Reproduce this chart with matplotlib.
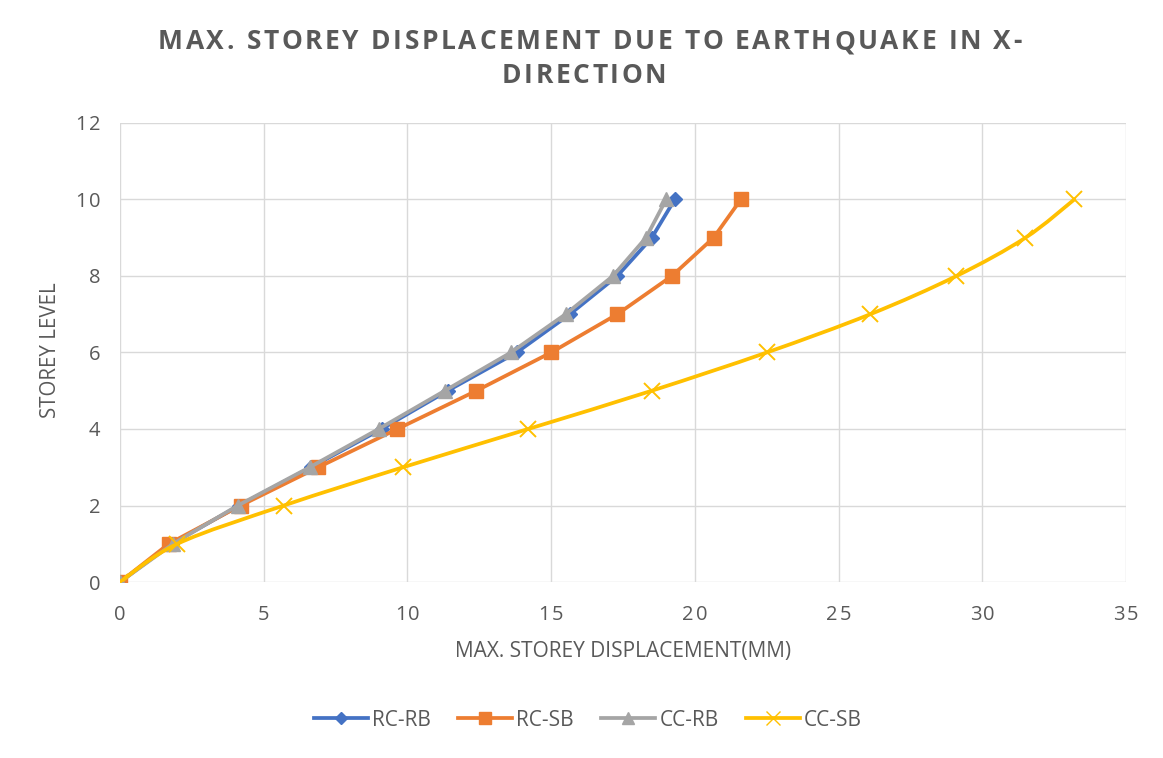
import numpy as np
import matplotlib
matplotlib.use("Agg")
import matplotlib.pyplot as plt
from matplotlib.path import Path
from matplotlib.patches import PathPatch
from matplotlib.lines import Line2D
from matplotlib.font_manager import FontProperties

# Storey levels and maximum displacements (mm)
storeys = [0, 1, 2, 3, 4, 5, 6, 7, 8, 9, 10]
rc_rb = [0, 1.8, 4.15, 6.65, 9.1, 11.4, 13.8, 15.65, 17.3, 18.5, 19.3]
rc_sb = [0, 1.7, 4.2, 6.9, 9.65, 12.4, 15.0, 17.3, 19.2, 20.65, 21.6]
cc_rb = [0, 1.85, 4.1, 6.6, 9.0, 11.3, 13.6, 15.5, 17.15, 18.3, 19.0]
cc_sb = [0, 2.0, 5.7, 9.85, 14.2, 18.5, 22.5, 26.1, 29.1, 31.5, 33.2]

series_names = ["RC-RB", "RC-SB", "CC-RB", "CC-SB"]
series_values = [rc_rb, rc_sb, cc_rb, cc_sb]
colors = ["#4472C4", "#ED7D31", "#A5A5A5", "#FFC000"]
markers = ["D", "s", "^", "x"]
marker_sizes = [7, 10, 10.5, 12]
smooth = [False, False, False, True]

x_ticks = [0, 5, 10, 15, 20, 25, 30, 35]
y_ticks = [0, 2, 4, 6, 8, 10, 12]

title_lines = ["MAX. STOREY DISPLACEMENT DUE TO EARTHQUAKE IN X-", "DIRECTION"]
x_label = "MAX. STOREY DISPLACEMENT(MM)"
y_label = "STOREY LEVEL"

text_color = "#595959"
grid_color = "#D9D9D9"
W, H = 1163, 758

fig = plt.figure(figsize=(W / 100, H / 100), dpi=100)
ax = fig.add_axes([120 / W, 1 - 582 / H, (1126 - 120) / W, (582 - 123) / H])
renderer = fig.canvas.get_renderer()


def text_width(s, prop):
    w, _, _ = renderer.get_text_width_height_descent(s, prop, ismath=False)
    return w


def spaced_text(x_px, y_base_px, s, prop, extra=0.0, ha="center", color=text_color):
    """Draw a string letter by letter with extra tracking (pixels)."""
    ref = "I"
    w_ref = text_width(ref, prop)
    offsets = [0.0] + [text_width(s[:i] + ref, prop) - w_ref for i in range(1, len(s))]
    total = text_width(s, prop) + extra * (len(s) - 1)
    if ha == "center":
        start = x_px - total / 2
    elif ha == "right":
        start = x_px - total
    else:
        start = x_px
    for i, ch in enumerate(s):
        if ch == " ":
            continue
        fig.text((start + offsets[i] + i * extra) / W, 1 - y_base_px / H, ch,
                 ha="left", va="baseline", fontproperties=prop, color=color)


def smooth_path(xs, ys, tension=1 / 6):
    """Catmull-Rom style Bezier path through the given points."""
    pts = np.column_stack([xs, ys]).astype(float)
    verts = [pts[0]]
    codes = [Path.MOVETO]
    n = len(pts)
    for i in range(n - 1):
        p0 = pts[i - 1] if i > 0 else pts[i]
        p1 = pts[i]
        p2 = pts[i + 1]
        p3 = pts[i + 2] if i + 2 < n else pts[i + 1]
        c1 = p1 + (p2 - p0) * tension
        c2 = p2 - (p3 - p1) * tension
        verts.extend([c1, c2, p2])
        codes.extend([Path.CURVE4] * 3)
    return Path(verts, codes)


for i, (name, vals) in enumerate(zip(series_names, series_values)):
    z = 3 + i
    if smooth[i]:
        patch = PathPatch(smooth_path(vals, storeys), facecolor="none",
                          edgecolor=colors[i], lw=2.7, zorder=z,
                          capstyle="round", joinstyle="round")
        ax.add_patch(patch)
        ax.plot(vals, storeys, linestyle="none", marker=markers[i],
                ms=marker_sizes[i], mec=colors[i], mfc=colors[i], mew=1.4,
                zorder=z)
    else:
        ax.plot(vals, storeys, color=colors[i], lw=2.7, marker=markers[i],
                ms=marker_sizes[i], mec=colors[i], mfc=colors[i],
                solid_joinstyle="round", zorder=z)

ax.set_xlim(0, 35)
ax.set_ylim(0, 12)
ax.set_xticks(x_ticks)
ax.set_yticks(y_ticks)
ax.grid(True, color=grid_color, lw=1.0)
ax.set_axisbelow(True)
for s in ax.spines.values():
    s.set_visible(False)
ax.tick_params(length=0, labelbottom=False, labelleft=False)

# Tick labels placed through the axes transform, with slight tracking
tick_prop = FontProperties(family="Open Sans", size=14.5)
for v in x_ticks:
    px, _ = ax.transData.transform((v, 0))
    spaced_text(px, 620, str(v), tick_prop, extra=2.0)
for v in y_ticks:
    _, py = ax.transData.transform((0, v))
    spaced_text(100, H - py + 7.5, str(v), tick_prop, extra=2.0, ha="right")

label_prop = FontProperties(family="Open Sans", size=15)
fig.text(623 / W, 1 - 652 / H, x_label, ha="center", va="center",
         fontproperties=label_prop, color=text_color)
fig.text(51 / W, 1 - 350 / H, y_label, ha="center", va="center", rotation=90,
         fontproperties=FontProperties(family="Open Sans", size=14.8), color=text_color)

# Title with wide tracking
title_prop = FontProperties(family="Open Sans", size=19, weight="bold")
n1 = len(title_lines[0])
track = (864 - text_width(title_lines[0], title_prop)) / (n1 - 1)
spaced_text(590, 49, title_lines[0], title_prop, extra=track)
spaced_text(584, 83, title_lines[1], title_prop, extra=track)

handles = [Line2D([], [], color=c, lw=2.7, marker=m, ms=ms * 0.85, mec=c, mfc=c)
           for c, m, ms in zip(colors, markers, marker_sizes)]
leg = fig.legend(handles, series_names, loc="center", bbox_to_anchor=(588 / W, 1 - 720 / H),
                 ncol=4, frameon=False, handlelength=2.6, handletextpad=0.2,
                 columnspacing=1.3, prop={"family": "Open Sans", "size": 15})
for t in leg.get_texts():
    t.set_color(text_color)

fig.savefig("out.png", dpi=100, facecolor="white")
